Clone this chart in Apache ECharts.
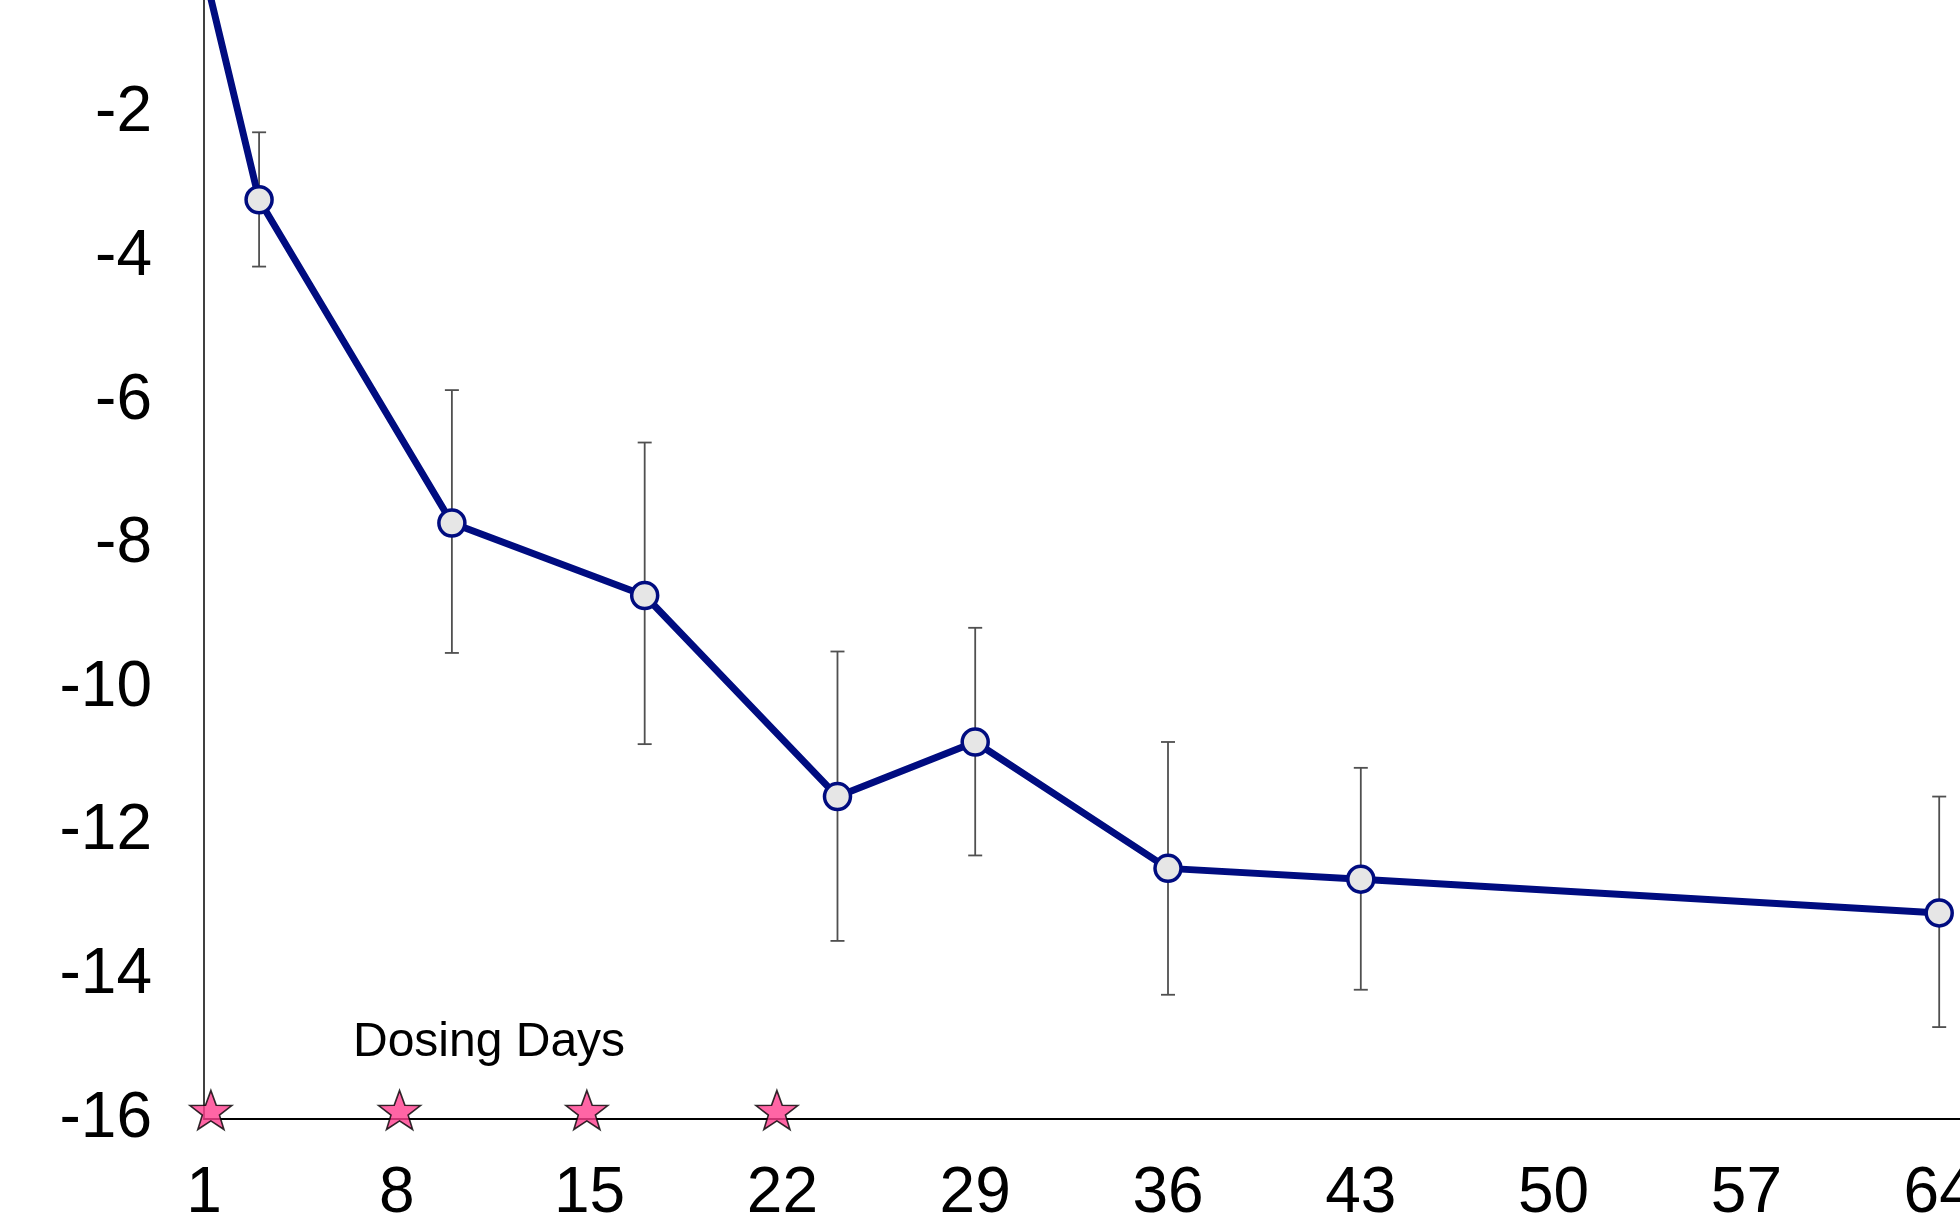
<!DOCTYPE html>
<html>
<head>
<meta charset="utf-8">
<script src="https://cdn.jsdelivr.net/npm/echarts@6/dist/echarts.min.js"></script>
<style>
html,body{margin:0;padding:0;background:#fff;overflow:hidden;width:1960px;height:1228px;}
#c{position:absolute;left:0;top:-30px;width:2132px;height:1258px;}
</style>
</head>
<body>
<div id="c"></div>
<script>
// Study days (x) and mean change with error bar limits
const days = [1, 3, 10, 17, 24, 29, 36, 43, 64];
const meanValues = [0, -3.2, -7.7, -8.71, -11.51, -10.75, -12.51, -12.66, -13.13];
const errUpper = [null, -2.26, -5.85, -6.58, -9.49, -9.16, -10.75, -11.11, -11.51];
const errLower = [null, -4.13, -9.51, -10.78, -13.52, -12.33, -14.27, -14.20, -14.72];
// Dosing day markers
const dosingDays = [1.25, 8.1, 14.9, 21.8];
const dosingLevel = -16;
const dosingLabel = 'Dosing Days';

const FONT = '"Liberation Sans", Arial, sans-serif';
const chart = echarts.init(document.getElementById('c'));

const lineData = days.map((d, i) => [d, meanValues[i]]);
const errData = days.map((d, i) => [d, errLower[i], errUpper[i]]).filter(r => r[1] !== null);
const starData = dosingDays.map(d => [d, dosingLevel]);

const starPath = 'path://M50,0 L62.5,34.5 L98.9,35.1 L70,57.5 L80.4,91 L50,71 L19.6,91 L30,57.5 L1.1,35.1 L37.5,34.5 Z';

chart.setOption({
  animation: false,
  backgroundColor: '#fff',
  grid: { left: 204, top: 0, bottom: 109, right: 0, containLabel: false, outerBoundsMode: 'none' },
  xAxis: {
    type: 'value', min: 1, max: 71, interval: 7,
    axisLine: { show: true, onZero: false, lineStyle: { color: '#000', width: 2 } },
    axisTick: { show: false },
    splitLine: { show: false },
    axisLabel: { fontSize: 64, color: '#000', fontFamily: FONT, margin: 43 }
  },
  yAxis: {
    type: 'value', min: -16, max: 0, interval: 2,
    axisLine: { show: true, onZero: false, lineStyle: { color: '#000', width: 1.5 } },
    axisTick: { show: false },
    splitLine: { show: false },
    axisLabel: { fontSize: 64, color: '#000', fontFamily: FONT, margin: 52 }
  },
  series: [
    {
      type: 'custom',
      z: 1,
      data: errData,
      renderItem: function (params, api) {
        const x = api.value(0);
        const lo = api.coord([x, api.value(1)]);
        const hi = api.coord([x, api.value(2)]);
        const hw = 7;
        const st = { stroke: '#505050', lineWidth: 1.8 };
        return {
          type: 'group',
          children: [
            { type: 'line', shape: { x1: lo[0], y1: lo[1], x2: hi[0], y2: hi[1] }, style: st },
            { type: 'line', shape: { x1: lo[0] - hw, y1: lo[1], x2: lo[0] + hw, y2: lo[1] }, style: st },
            { type: 'line', shape: { x1: hi[0] - hw, y1: hi[1], x2: hi[0] + hw, y2: hi[1] }, style: st }
          ]
        };
      }
    },
    {
      type: 'line',
      z: 3,
      data: lineData,
      symbol: 'circle',
      symbolSize: 26,
      showAllSymbol: true,
      lineStyle: { color: '#000c80', width: 7 },
      itemStyle: { color: '#e6e6e6', borderColor: '#000c80', borderWidth: 3.5 }
    },
    {
      type: 'scatter',
      z: 4,
      data: starData,
      symbol: starPath,
      symbolSize: [42, 39],
      symbolOffset: [0, -9],
      itemStyle: { color: '#ff3f8e', borderColor: '#000', borderWidth: 1.6 }
    }
  ],
  graphic: [
    {
      type: 'text',
      left: 353,
      top: 1049,
      style: { text: dosingLabel, font: '48px ' + FONT, fill: '#000' }
    }
  ]
});
</script>
</body>
</html>
